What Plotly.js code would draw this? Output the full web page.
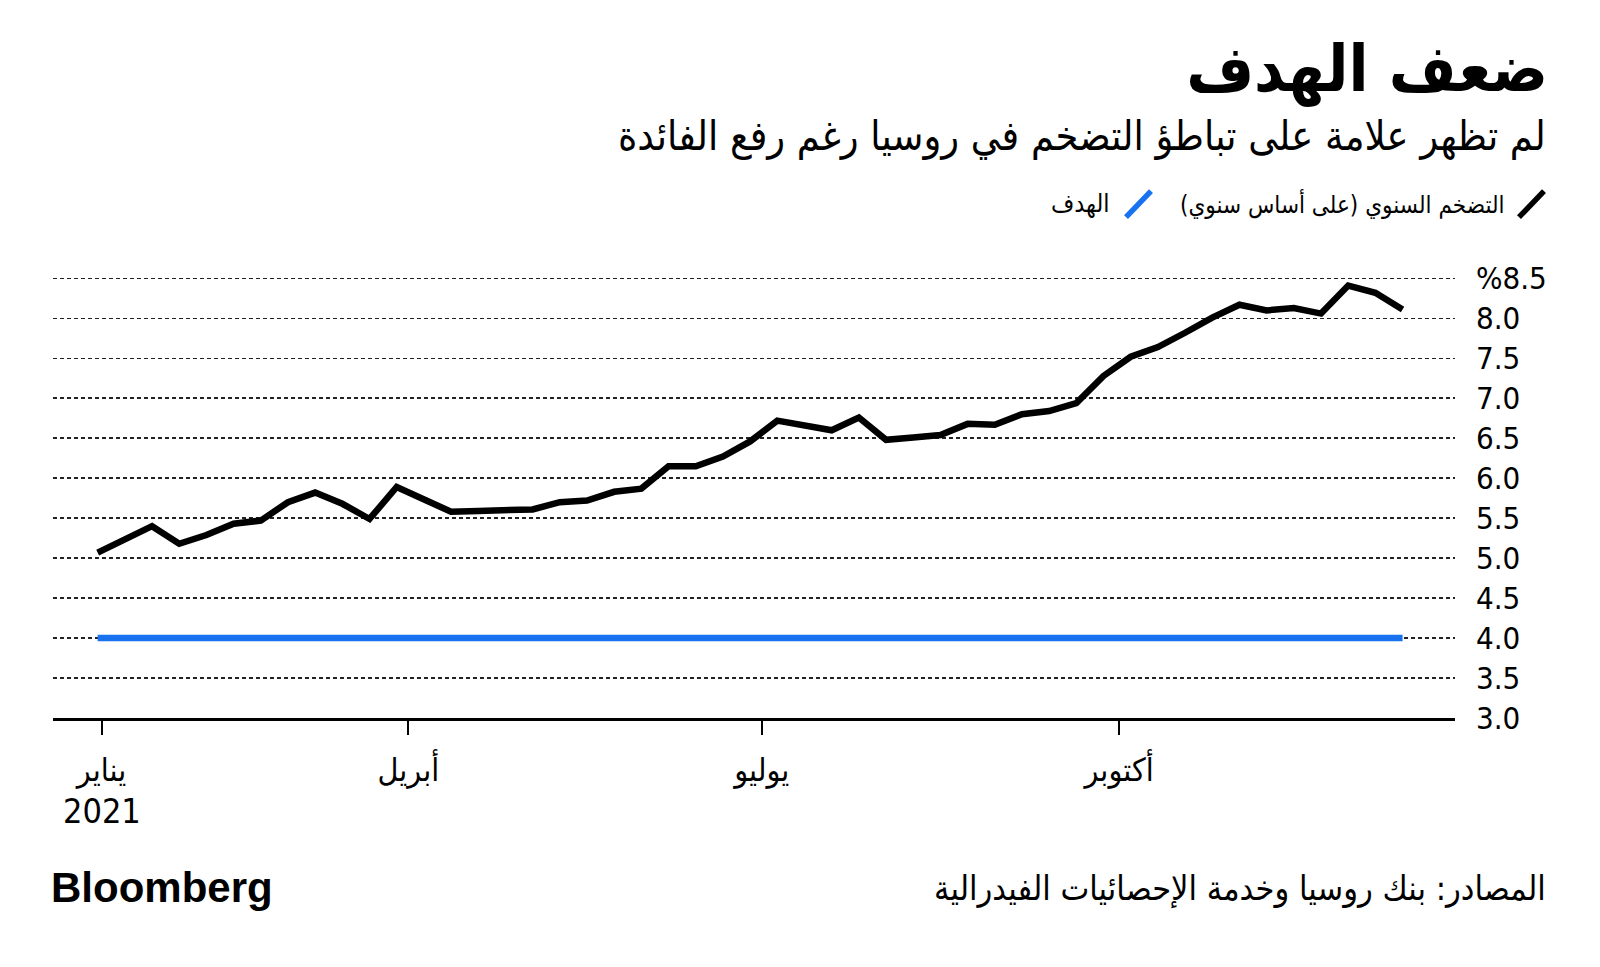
<!DOCTYPE html>
<html>
<head>
<meta charset="utf-8">
<script src="https://cdn.plot.ly/plotly-3.0.1.min.js"></script>
<style>html,body{margin:0;padding:0;background:#fff;}</style>
</head>
<body>
<div id="chart" style="width:1600px;height:967px;"></div>
<script>
// ---- data ----
const dates = [
  '2021-01-11','2021-01-18','2021-01-25','2021-02-01','2021-02-08','2021-02-15','2021-02-22',
  '2021-03-01','2021-03-08','2021-03-15','2021-03-22','2021-03-29','2021-04-05','2021-04-12',
  '2021-04-19','2021-04-26','2021-05-03','2021-05-10','2021-05-17','2021-05-24','2021-05-31',
  '2021-06-07','2021-06-14','2021-06-21','2021-06-28','2021-07-05','2021-07-12','2021-07-19',
  '2021-07-26','2021-08-02','2021-08-09','2021-08-16','2021-08-23','2021-08-30','2021-09-06',
  '2021-09-13','2021-09-20','2021-09-27','2021-10-04','2021-10-11','2021-10-18','2021-10-25',
  '2021-11-01','2021-11-08','2021-11-15','2021-11-22','2021-11-29','2021-12-06','2021-12-13'
];
const inflation = [
  5.07,5.23,5.40,5.18,5.29,5.43,5.47,
  5.70,5.82,5.68,5.49,5.89,5.74,5.58,
  5.59,5.60,5.61,5.70,5.72,5.83,5.87,
  6.15,6.15,6.27,6.46,6.72,6.66,6.60,
  6.76,6.48,6.51,6.54,6.68,6.67,6.80,
  6.84,6.94,7.28,7.52,7.64,7.82,8.01,
  8.17,8.10,8.13,8.06,8.41,8.32,8.11
];
const targetDates = ['2021-01-11','2021-12-13'];
const targetValues = [4.0, 4.0];

const seriesNames = ['التضخم السنوي (على أساس سنوي)\u200F', 'الهدف'];
const xTickVals = ['2021-01-12','2021-04-01','2021-07-01','2021-10-01'];
const xTickText = ['يناير','أبريل','يوليو','أكتوبر'];
const yearLabel = '2021';
const yTickVals = [3.0,3.5,4.0,4.5,5.0,5.5,6.0,6.5,7.0,7.5,8.0,8.5];
const yTickText = ['3.0','3.5','4.0','4.5','5.0','5.5','6.0','6.5','7.0','7.5','8.0','%8.5'];

const titleText = 'ضعف الهدف';
const subtitleText = 'لم تظهر علامة على تباطؤ التضخم في روسيا رغم رفع الفائدة';
const sourceText = 'المصادر: بنك روسيا وخدمة الإحصائيات الفيدرالية';
const brandText = 'Bloomberg';

// ---- style ----
const FONT = 'DejaVu Sans Condensed, DejaVu Sans, sans-serif';
const BLUE = '#1872f0';
const L = 53, R = 1455, T = 275.9, B = 718.3;
const px = X => (X - L) / (R - L);
const py = Y => (B - Y) / (B - T);

const traces = [
  {x: targetDates, y: targetValues, mode: 'lines', name: seriesNames[1],
   line: {color: BLUE, width: 6.5}, hoverinfo: 'skip', cliponaxis: false},
  {x: dates, y: inflation, mode: 'lines', name: seriesNames[0],
   line: {color: '#000', width: 6.5}, hoverinfo: 'skip', cliponaxis: false}
];

const layout = {
  width: 1600, height: 967, autosize: false,
  margin: {l: L, r: 1600 - R, t: T, b: 967 - B, pad: 0},
  paper_bgcolor: '#fff', plot_bgcolor: '#fff',
  showlegend: false,
  font: {family: FONT, color: '#000'},
  title: {text: titleText, xref: 'container', yref: 'container',
          x: 1548/1600, xanchor: 'right', y: 1 - 68/967, yanchor: 'middle',
          font: {family: FONT, size: 65, weight: 'bold', color: '#000'}},
  xaxis: {
    type: 'date', range: ['2020-12-30 12:00', '2021-12-26 12:00'],
    tickmode: 'array', tickvals: xTickVals, ticktext: xTickText,
    ticks: 'outside', ticklen: 14, tickwidth: 2, tickcolor: '#000',
    ticklabelstandoff: 8,
    showline: true, linecolor: '#000', linewidth: 3,
    showgrid: false, zeroline: false,
    tickfont: {family: FONT, size: 32, color: '#000'}
  },
  yaxis: {
    range: [3, 8.53], side: 'right',
    tickmode: 'array', tickvals: yTickVals, ticktext: yTickText,
    ticks: '', ticklabelstandoff: 20,
    showline: false, zeroline: false,
    showgrid: true, gridcolor: '#222', gridwidth: 1.6, griddash: '4px,3px',
    tickfont: {family: FONT, size: 31, color: '#000'}
  },
  shapes: [
    {type: 'line', xref: 'paper', yref: 'paper', x0: px(1519), y0: py(217), x1: px(1544), y1: py(191),
     line: {color: '#000', width: 5.5}},
    {type: 'line', xref: 'paper', yref: 'paper', x0: px(1126), y0: py(217), x1: px(1151), y1: py(191),
     line: {color: BLUE, width: 5.5}}
  ],
  annotations: [
    {text: subtitleText, xref: 'paper', yref: 'paper', x: px(1548), y: py(136),
     xanchor: 'right', yanchor: 'middle', showarrow: false,
     font: {family: FONT, size: 41, color: '#000'}},
    {text: seriesNames[0], xref: 'paper', yref: 'paper', x: px(1507), y: py(204),
     xanchor: 'right', yanchor: 'middle', showarrow: false,
     font: {family: FONT, size: 24, color: '#000'}},
    {text: seriesNames[1], xref: 'paper', yref: 'paper', x: px(1112), y: py(204),
     xanchor: 'right', yanchor: 'middle', showarrow: false,
     font: {family: FONT, size: 25, color: '#000'}},
    {text: yearLabel, xref: 'x', yref: 'paper', x: xTickVals[0], y: py(811),
     xanchor: 'center', yanchor: 'middle', showarrow: false,
     font: {family: FONT, size: 34, color: '#000'}},
    {text: brandText, xref: 'paper', yref: 'paper', x: px(49), y: py(888),
     xanchor: 'left', yanchor: 'middle', showarrow: false,
     font: {family: 'Liberation Sans, Arial, sans-serif', size: 42, weight: 'bold', color: '#000'}},
    {text: sourceText, xref: 'paper', yref: 'paper', x: px(1548), y: py(889),
     xanchor: 'right', yanchor: 'middle', showarrow: false,
     font: {family: FONT, size: 34, color: '#000'}}
  ]
};

Plotly.newPlot('chart', traces, layout, {staticPlot: true, displayModeBar: false});
</script>
</body>
</html>
